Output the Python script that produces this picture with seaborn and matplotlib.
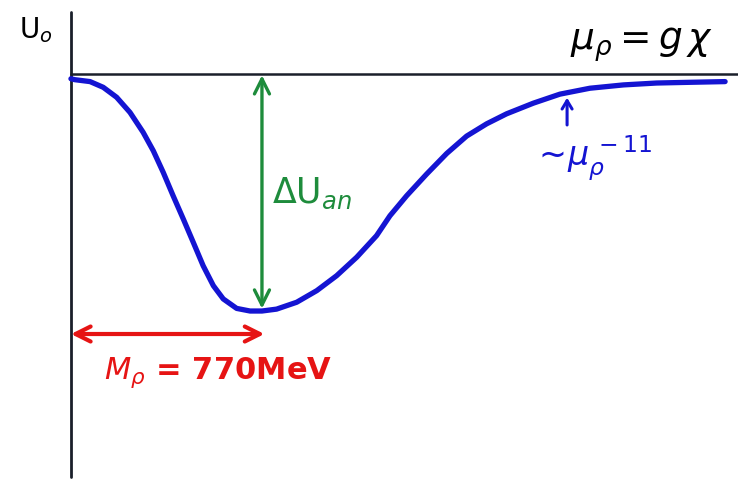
import numpy as np
import pandas as pd
import matplotlib
matplotlib.use("Agg")
import matplotlib.pyplot as plt
import seaborn as sns

# Sketch of the potential U0 as a function of the rho mass mu_rho = g*chi
mu_rho = [0, 16, 77, 130, 184, 238, 291, 332, 372, 412, 453, 493, 533,
          574, 614, 668, 722, 770, 829, 910, 991, 1071, 1152, 1232, 1286,
          1353, 1434, 1515, 1595, 1676, 1756, 1864, 1971, 2092, 2227,
          2361, 2495, 2637]
u0 = [-0.02, -0.024, -0.032, -0.056, -0.098, -0.162, -0.246, -0.324,
      -0.415, -0.514, -0.612, -0.710, -0.809, -0.893, -0.949, -0.989,
      -1.0, -1.0, -0.992, -0.963, -0.914, -0.851, -0.773, -0.682, -0.598,
      -0.514, -0.422, -0.335, -0.262, -0.210, -0.168, -0.123, -0.085,
      -0.060, -0.046, -0.038, -0.035, -0.032]

m_rho = 770          # MeV, position of the minimum
delta_u = 1.0        # depth of the well
tail_mark = 2000     # where the power-law tail is pointed out

df = pd.DataFrame({"mu_rho": mu_rho, "U0": u0})

sns.set_theme(style="white")
plt.rcParams["font.family"] = ["DejaVu Sans"]
plt.rcParams["mathtext.fontset"] = "dejavusans"

fig = plt.figure(figsize=(7.38, 4.81), dpi=100)
ax = fig.add_axes([0, 0, 1, 1])
x_lo, x_hi = -286, 2689
y_lo, y_hi = -1.713, 0.3165
ax.set_xlim(x_lo, x_hi)
ax.set_ylim(y_lo, y_hi)
ax.axis("off")

# axes of the sketch
ax.plot([0, 0], [-1.70, 0.262], color="#1a1f2a", lw=2.0, solid_capstyle="round")
ax.plot([0, x_hi], [0, 0], color="#1a1f2a", lw=1.8)

blue = "#1414d2"
green = "#1e8c3c"
red = "#e61414"

# potential curve
sns.lineplot(data=df, x="mu_rho", y="U0", ax=ax, color=blue, lw=3.8,
             sort=True, legend=False)
for line in ax.lines[-1:]:
    line.set_solid_capstyle("round")
    line.set_solid_joinstyle("round")

# depth of the well
ax.annotate("", xy=(m_rho, -delta_u + 0.01), xytext=(m_rho, -0.005),
            arrowprops=dict(arrowstyle="<->,head_length=0.9,head_width=0.45",
                            color=green, lw=2.4, shrinkA=0, shrinkB=0))
ax.text(m_rho + 40, -0.5, r"$\Delta$U$_{an}$", color=green, fontsize=25,
        ha="left", va="center")

# position of the minimum
ax.annotate("", xy=(m_rho + 10, -1.097), xytext=(0, -1.097),
            arrowprops=dict(arrowstyle="<->,head_length=0.9,head_width=0.45",
                            color=red, lw=3.0, shrinkA=0, shrinkB=0))
ax.text(595, -1.255, r"$M_\rho$ = " + f"{m_rho}MeV", color=red, fontsize=22,
        fontweight="bold", ha="center", va="center")

# power-law tail
ax.annotate("", xy=(tail_mark, -0.1), xytext=(tail_mark, -0.215),
            arrowprops=dict(arrowstyle="->,head_length=0.5,head_width=0.3",
                            color=blue, lw=2.2, shrinkA=0, shrinkB=0))
ax.text(1860, -0.35, r"$\sim\!\mu_\rho^{\,-11}$", color=blue, fontsize=24,
        ha="left", va="center")

# axis labels
ax.text(-210, 0.19, r"U$_o$", color="black", fontsize=20, ha="left",
        va="center")
ax.text(2300, 0.13, r"$\mu_\rho = g\,\chi$", color="black", fontsize=27,
        ha="center", va="center")

fig.savefig("out.png", dpi=100)
